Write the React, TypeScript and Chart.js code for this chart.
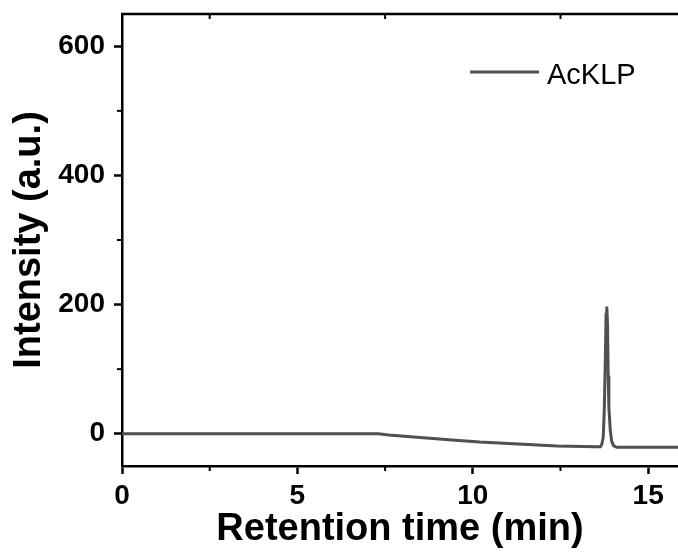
import React, { useEffect, useRef } from "react";
import { Chart, registerables } from "chart.js";

Chart.register(...registerables);

const seriesLabel = "AcKLP";
const retentionTime = [0, 7.3, 7.6, 8.5, 9.5, 10.2, 11.3, 12.4, 13.5, 13.64, 13.68, 13.72, 13.75, 13.78, 13.8, 13.82, 13.84, 13.86, 13.88, 13.92, 13.96, 14.02, 14.1, 14.3, 15.85];
const intensity = [0, 0, -2, -6, -10, -13, -16, -19, -20, -20, -16, -5, 40, 120, 185, 197, 170, 90, 40, 5, -12, -19, -21, -21, -21];
const xTicks = [0, 5, 10, 15];
const yTicks = [0, 200, 400, 600];
const xMinorTicks = [2.5, 7.5, 12.5];
const yMinorTicks = [100, 300, 500];
const xMin = 0;
const xMax = 15.85;
const yMin = -50;
const yMax = 650;

const FONT = "'Liberation Sans', Arial, Helvetica, sans-serif";
const LINE_COLOR = "#505050";

const decorPlugin = {
  id: "decor",
  afterDraw(chart: any) {
    const { ctx, chartArea, scales } = chart;
    const xs = scales.x;
    const ys = scales.y;
    ctx.save();
    ctx.strokeStyle = "#000";
    ctx.lineWidth = 2.5;
    ctx.beginPath();
    ctx.moveTo(chartArea.left - 1, chartArea.top);
    ctx.lineTo(chartArea.right, chartArea.top);
    ctx.stroke();
    ctx.lineWidth = 2;
    for (const v of xMinorTicks) {
      const px = xs.getPixelForValue(v);
      ctx.beginPath();
      ctx.moveTo(px, chartArea.bottom);
      ctx.lineTo(px, chartArea.bottom + 5);
      ctx.stroke();
      ctx.beginPath();
      ctx.moveTo(px, chartArea.top);
      ctx.lineTo(px, chartArea.top + 5);
      ctx.stroke();
    }
    for (const v of yMinorTicks) {
      const py = ys.getPixelForValue(v);
      ctx.beginPath();
      ctx.moveTo(chartArea.left, py);
      ctx.lineTo(chartArea.left - 5, py);
      ctx.stroke();
    }
    const ds = chart.data.datasets[0];
    ctx.strokeStyle = ds.borderColor;
    ctx.lineWidth = 3;
    ctx.beginPath();
    ctx.moveTo(470, 72);
    ctx.lineTo(539, 72);
    ctx.stroke();
    ctx.fillStyle = "#000";
    ctx.font = `29px ${FONT}`;
    ctx.textBaseline = "alphabetic";
    ctx.textAlign = "left";
    ctx.fillText(ds.label, 547, 84);
    ctx.restore();
  },
};

export default function App() {
  const canvasRef = useRef<HTMLCanvasElement | null>(null);

  useEffect(() => {
    const canvas = canvasRef.current;
    if (!canvas) return;
    const points = retentionTime.map((x, i) => ({ x, y: intensity[i] }));
    const chart = new Chart(canvas, {
      type: "line",
      data: {
        datasets: [
          {
            label: seriesLabel,
            data: points,
            borderColor: LINE_COLOR,
            borderWidth: 3,
            pointRadius: 0,
            tension: 0,
            fill: false,
          },
        ],
      },
      options: {
        animation: false,
        responsive: false,
        maintainAspectRatio: false,
        layout: { padding: { top: 14, right: 0, left: 0, bottom: 0 } },
        plugins: {
          legend: { display: false },
          tooltip: { enabled: false },
        },
        scales: {
          x: {
            type: "linear",
            min: xMin,
            max: xMax,
            afterBuildTicks: (scale: any) => {
              scale.ticks = xTicks.map((v) => ({ value: v }));
            },
            afterFit: (scale: any) => {
              scale.height = 93;
              scale.paddingLeft = 0;
              scale.paddingRight = 0;
            },
            ticks: {
              color: "#000",
              font: { family: FONT, size: 28, weight: "bold" },
              padding: 5,
              maxRotation: 0,
              autoSkip: false,
            },
            grid: {
              drawOnChartArea: false,
              drawTicks: true,
              tickLength: 8,
              tickWidth: 2.5,
              color: "#000",
            },
            border: { display: true, color: "#000", width: 2.5 },
            title: {
              display: true,
              text: "Retention time (min)",
              color: "#000",
              font: { family: FONT, size: 38, weight: "bold", lineHeight: 1.2 },
              padding: { top: 0, bottom: 7 },
            },
          },
          y: {
            type: "linear",
            min: yMin,
            max: yMax,
            afterBuildTicks: (scale: any) => {
              scale.ticks = yTicks.map((v) => ({ value: v }));
            },
            afterFit: (scale: any) => {
              scale.width = 122;
              scale.paddingTop = 0;
              scale.paddingBottom = 0;
            },
            ticks: {
              color: "#000",
              font: { family: FONT, size: 28, weight: "bold" },
              padding: 9,
              autoSkip: false,
            },
            grid: {
              drawOnChartArea: false,
              drawTicks: true,
              tickLength: 8,
              tickWidth: 2.5,
              color: "#000",
            },
            border: { display: true, color: "#000", width: 2.5 },
            title: {
              display: true,
              text: "Intensity (a.u.)",
              color: "#000",
              font: { family: FONT, size: 38, weight: "bold", lineHeight: 1.2 },
              padding: { top: 7, bottom: 0 },
            },
          },
        },
      },
      plugins: [decorPlugin],
    });
    return () => chart.destroy();
  }, []);

  return (
    <div style={{ position: "fixed", left: 0, top: 0, width: 678, height: 559, background: "#fff" }}>
      <canvas ref={canvasRef} width={678} height={559} style={{ display: "block", width: 678, height: 559 }} />
    </div>
  );
}
